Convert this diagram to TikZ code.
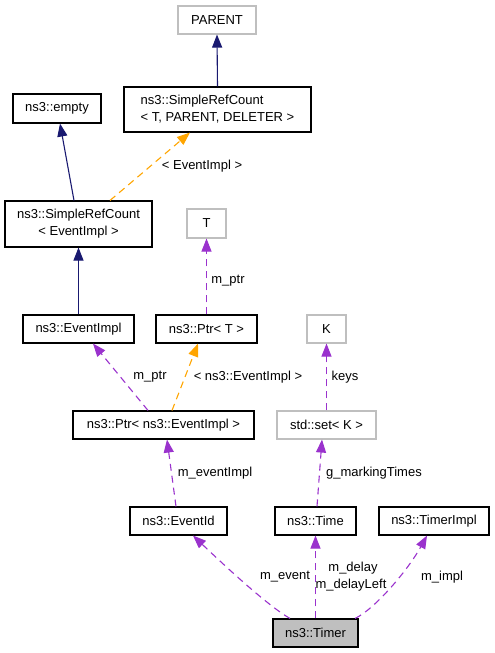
\documentclass[tikz,border=0pt]{standalone}
\usepackage{fontspec}
\setmainfont{Liberation Sans}
\usetikzlibrary{arrows.meta}
\definecolor{navy}{HTML}{191970}
\definecolor{purp}{HTML}{9A32CD}
\definecolor{orng}{HTML}{FFA500}
\definecolor{gbord}{HTML}{BFBFBF}
\definecolor{gfill}{HTML}{BFBFBF}
\begin{document}
\begin{tikzpicture}[x=1pt,y=-1pt,
  every node/.style={font=\fontsize{13}{17}\selectfont, inner sep=0pt},
  cls/.style={draw=black, line width=1.1pt, rectangle, fill=white},
  ext/.style={draw=gbord, line width=1.1pt, rectangle, fill=white},
  inh/.style={draw=navy, line width=1.1pt, -{Triangle[length=13pt,width=10pt]}, navy},
  use/.style={draw=purp, line width=1.1pt, dash pattern=on 7pt off 5pt, -{Triangle[length=13pt,width=10pt]}, purp},
  tpl/.style={draw=orng, line width=1.1pt, dash pattern=on 7pt off 5pt, -{Triangle[length=13pt,width=10pt]}, orng},
  lbl/.style={text=black}
]
\useasboundingbox (0,0) rectangle (495,653);

\node[ext, minimum width=78pt, minimum height=28pt] (parent) at (217,20) {PARENT};
\node[cls, minimum width=187pt, minimum height=45pt, align=left] (srcT) at (217.5,109.5) {ns3::SimpleRefCount\\< T, PARENT, DELETER >};
\node[cls, minimum width=88pt, minimum height=29pt] (empty) at (57,108.5) {ns3::empty};
\node[cls, minimum width=147pt, minimum height=46pt, align=center] (srcE) at (78.5,224) {ns3::SimpleRefCount\\< EventImpl >};
\node[ext, minimum width=39pt, minimum height=29pt] (T) at (206.5,223.5) {T};
\node[cls, minimum width=111pt, minimum height=28pt] (evimpl) at (78.5,329) {ns3::EventImpl};
\node[cls, minimum width=101pt, minimum height=28pt] (ptrT) at (206.5,329) {ns3::Ptr< T >};
\node[ext, minimum width=39pt, minimum height=28pt] (K) at (326.5,329) {K};
\node[cls, minimum width=181pt, minimum height=28pt] (ptrE) at (163.5,425) {ns3::Ptr< ns3::EventImpl >};
\node[ext, minimum width=99pt, minimum height=28pt] (set) at (326.5,425) {std::set< K >};
\node[cls, minimum width=97pt, minimum height=28pt] (evid) at (178.5,521) {ns3::EventId};
\node[cls, minimum width=81pt, minimum height=28pt] (time) at (315.5,521) {ns3::Time};
\node[cls, minimum width=110pt, minimum height=28pt] (timpl) at (434,521) {ns3::TimerImpl};
\node[cls, fill=gfill, minimum width=85pt, minimum height=28pt] (timer) at (315.5,633) {ns3::Timer};

% inheritance
\draw[inh] (srcT.north) -- (parent.south);
\draw[inh] ([xshift=-4.5pt]srcE.north) -- ([xshift=3pt]empty.south);
\draw[inh] (evimpl.north) -- (srcE.south);

% template instances
\draw[tpl] ([xshift=31.5pt]srcE.north) -- ([xshift=-27.5pt]srcT.south);
\node[lbl] (l1) at (202,166) {< EventImpl >};
\draw[tpl] ([xshift=8.5pt]ptrE.north) -- ([xshift=-8.5pt]ptrT.south);
\node[lbl] (l2) at (248,377) {< ns3::EventImpl >};

% usage
\draw[use] (ptrT.north) -- (T.south);
\node[lbl] (l3) at (228,281) {m\_ptr};
\draw[use] ([xshift=-15.5pt]ptrE.north) -- ([xshift=14.5pt]evimpl.south);
\node[lbl] (l4) at (150,377) {m\_ptr};
\draw[use] (set.north) -- (K.south);
\node[lbl] (l5) at (345,377) {keys};
\draw[use] ([xshift=-2.5pt]evid.north) -- ([xshift=3.5pt]ptrE.south);
\node[lbl] (l6) at (215,473) {m\_eventImpl};
\draw[use] ([xshift=1.5pt]time.north) -- ([xshift=-4.5pt]set.south);
\node[lbl] (l7) at (374,473) {g\_markingTimes};
\draw[use] ([xshift=-25.5pt]timer.north) .. controls (268,606) and (225,566) .. ([xshift=14.5pt]evid.south);
\node[lbl] (l8) at (285,577) {m\_event};
\draw[use] (timer.north) -- (time.south);
\node[lbl] (l9) at (353,568) {m\_delay};
\node[lbl] (l10) at (351,585) {m\_delayLeft};
\draw[use] ([xshift=39.5pt]timer.north) .. controls (375,609) and (408,570) .. ([xshift=-7pt]timpl.south);
\node[lbl] (l11) at (442,577) {m\_impl};
\end{tikzpicture}
\end{document}
